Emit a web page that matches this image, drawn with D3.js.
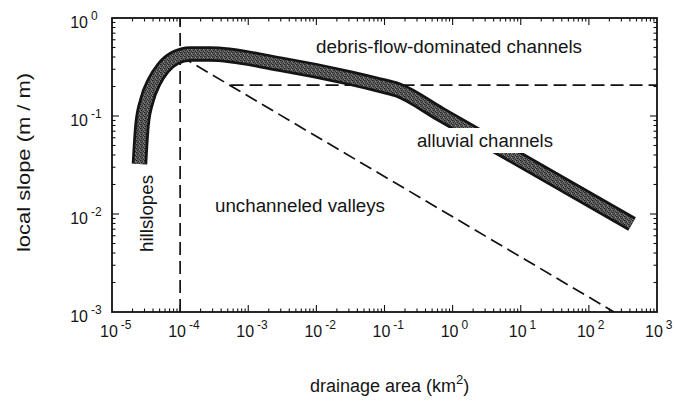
<!DOCTYPE html>
<html><head><meta charset="utf-8">
<script src="https://cdn.jsdelivr.net/npm/d3@7"></script>
<style>
body{margin:0;background:#fff}
svg{display:block}
text{font-family:Arial,"Liberation Sans",Helvetica,sans-serif;fill:#151515}
</style>
</head><body>
<svg id="c" width="674" height="403"></svg>
<script>
// ---- data ----
const xTickExps = [-5, -4, -3, -2, -1, 0, 1, 2, 3];
const yTickExps = [-3, -2, -1, 0];
// thick band: drainage area (km2) vs local slope (m/m)
const bandArea  = [2.53e-5, 2.76e-5, 3.27e-5, 4.14e-5, 5.61e-5, 8.41e-5, 1.40e-4, 2.74e-4, 2.92e-3, 3.12e-2, 0.0727, 0.158, 0.653, 430];
const bandSlope = [0.0324, 0.081, 0.146, 0.222, 0.309, 0.391, 0.429, 0.429, 0.339, 0.244, 0.212, 0.184, 0.105, 0.0079];
// dashed boundaries
const hillslopeArea  = [1e-4, 1e-4];   const hillslopeSlope  = [1e-3, 1];
const valleyArea     = [1e-4, 234];    const valleySlope     = [0.41, 1e-3];
const debrisArea     = [5.5e-4, 1e3];  const debrisSlope     = [0.207, 0.207];

// ---- layout ----
const L = 112, R = 657, T = 18, B = 312;
const svg = d3.select("#c");
const x = d3.scaleLog().domain([1e-5, 1e3]).range([L, R]);
const y = d3.scaleLog().domain([1e-3, 1]).range([B, T]);

// pattern for stippled band
const defs = svg.append("defs");
const pat = defs.append("pattern").attr("id", "stip").attr("patternUnits", "userSpaceOnUse")
  .attr("width", 4).attr("height", 4);
pat.append("rect").attr("width", 4).attr("height", 4).attr("fill", "#5c5c5c");
[[0,0,"#1e1e1e"],[2,1,"#2c2c2c"],[1,2,"#242424"],[3,3,"#2a2a2a"],[3,1,"#8a8a8a"],[1,0,"#474747"],[0,3,"#7c7c7c"]].forEach(d =>
  pat.append("rect").attr("x", d[0]).attr("y", d[1]).attr("width", 1).attr("height", 1).attr("fill", d[2]));

// dashed lines
const seg = d3.line().x(d => x(d[0])).y(d => y(d[1]));
function dashed(a, s) {
  svg.append("path").attr("d", seg(d3.zip(a, s))).attr("fill", "none")
    .attr("stroke", "#111").attr("stroke-width", 1.7).attr("stroke-dasharray", "13,6");
}
dashed(hillslopeArea, hillslopeSlope);
dashed(valleyArea, valleySlope);
dashed(debrisArea, debrisSlope);

// band
const bandLine = d3.line().x(d => x(d[0])).y(d => y(d[1])).curve(d3.curveMonotoneX);
const bandPts = d3.zip(bandArea, bandSlope);
svg.append("path").attr("d", bandLine(bandPts)).attr("fill", "none")
  .attr("stroke", "#141414").attr("stroke-width", 15.5).attr("stroke-linejoin", "round");
svg.append("path").attr("d", bandLine(bandPts)).attr("fill", "none")
  .attr("stroke", "url(#stip)").attr("stroke-width", 10).attr("stroke-linejoin", "round");

// white box behind alluvial label
svg.append("rect").attr("x", 412).attr("y", 128).attr("width", 146).attr("height", 25).attr("fill", "#fff");

// frame
svg.append("rect").attr("x", L).attr("y", T).attr("width", R - L).attr("height", B - T)
  .attr("fill", "none").attr("stroke", "#111").attr("stroke-width", 1.8);

// ticks (inward on all sides)
const g = svg.append("g").attr("stroke", "#111").attr("stroke-width", 1.1);
xTickExps.forEach((e, i) => {
  const base = Math.pow(10, e);
  const px = x(base);
  if (i > 0 && i < xTickExps.length - 1) {
    g.append("line").attr("x1", px).attr("x2", px).attr("y1", B).attr("y2", B - 7);
    g.append("line").attr("x1", px).attr("x2", px).attr("y1", T).attr("y2", T + 7);
  }
  if (i < xTickExps.length - 1) {
    for (let m = 2; m <= 9; m++) {
      const p = x(base * m);
      g.append("line").attr("x1", p).attr("x2", p).attr("y1", B).attr("y2", B - 3.5);
      g.append("line").attr("x1", p).attr("x2", p).attr("y1", T).attr("y2", T + 3.5);
    }
  }
});
yTickExps.forEach((e, i) => {
  const base = Math.pow(10, e);
  const py = y(base);
  if (i > 0 && i < yTickExps.length - 1) {
    g.append("line").attr("x1", L).attr("x2", L + 7).attr("y1", py).attr("y2", py);
    g.append("line").attr("x1", R).attr("x2", R - 7).attr("y1", py).attr("y2", py);
  }
  if (i < yTickExps.length - 1) {
    for (let m = 2; m <= 9; m++) {
      const p = y(base * m);
      g.append("line").attr("x1", L).attr("x2", L + 3.5).attr("y1", p).attr("y2", p);
      g.append("line").attr("x1", R).attr("x2", R - 3.5).attr("y1", p).attr("y2", p);
    }
  }
});

// tick labels
xTickExps.forEach(e => {
  const px = x(Math.pow(10, e));
  const t = svg.append("text").attr("x", px - 12).attr("y", B + 25).attr("font-size", 16);
  t.append("tspan").text("10");
  t.append("tspan").attr("dx", 3).attr("dy", -8).attr("font-size", 12).text(e);
});
yTickExps.forEach(e => {
  const py = y(Math.pow(10, e));
  svg.append("text").attr("x", 88).attr("y", py + 10).attr("font-size", 16)
    .attr("text-anchor", "end").text("10");
  svg.append("text").attr("x", 91).attr("y", py + 2).attr("font-size", 12).text(e);
});

// annotation labels
svg.append("text").attr("x", 316).attr("y", 53).attr("font-size", 18)
  .attr("textLength", 266).attr("lengthAdjust", "spacingAndGlyphs").text("debris-flow-dominated channels");
svg.append("text").attr("x", 417).attr("y", 147).attr("font-size", 18)
  .attr("textLength", 136).attr("lengthAdjust", "spacingAndGlyphs").text("alluvial channels");
svg.append("text").attr("x", 215).attr("y", 212).attr("font-size", 18)
  .attr("textLength", 170).attr("lengthAdjust", "spacingAndGlyphs").text("unchanneled valleys");
svg.append("text").attr("transform", "translate(153,252) rotate(-90)").attr("font-size", 18)
  .attr("textLength", 77).attr("lengthAdjust", "spacingAndGlyphs").text("hillslopes");

// axis titles
svg.append("text").attr("transform", "translate(30,252) rotate(-90)").attr("font-size", 19)
  .attr("textLength", 179).attr("lengthAdjust", "spacingAndGlyphs").text("local slope (m / m)");
const xt = svg.append("text").attr("x", 310).attr("y", 392).attr("font-size", 18);
xt.append("tspan").text("drainage area (km");
xt.append("tspan").attr("dy", -8).attr("font-size", 13).text("2");
xt.append("tspan").attr("dy", 8).text(")");
</script>
</body></html>
